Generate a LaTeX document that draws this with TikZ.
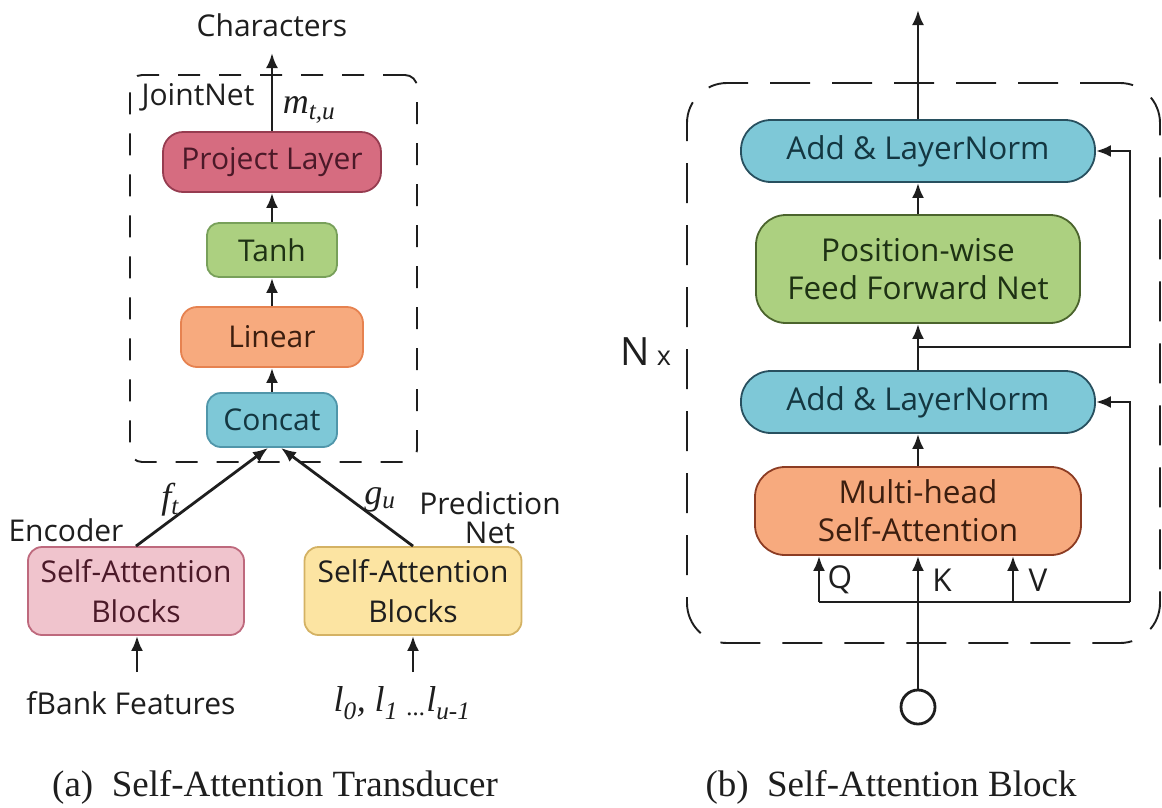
\documentclass[tikz,border=0pt]{standalone}
\usepackage{fontspec}
\setmainfont{Liberation Serif}
\setsansfont{Open Sans}
\usetikzlibrary{arrows.meta}

\definecolor{ink}{RGB}{30,30,30}
\definecolor{projfill}{RGB}{214,108,128}
\definecolor{projline}{RGB}{150,60,80}
\definecolor{projtext}{RGB}{75,25,40}
\definecolor{greenfill}{RGB}{172,208,128}
\definecolor{greenline}{RGB}{120,160,90}
\definecolor{greentext}{RGB}{30,50,20}
\definecolor{ffnline}{RGB}{75,100,45}
\definecolor{orangefill}{RGB}{247,170,126}
\definecolor{orangeline}{RGB}{230,130,80}
\definecolor{orangetext}{RGB}{60,30,15}
\definecolor{mhsaline}{RGB}{140,60,35}
\definecolor{bluefill}{RGB}{126,200,215}
\definecolor{blueline}{RGB}{80,150,170}
\definecolor{bluetext}{RGB}{20,55,65}
\definecolor{addline}{RGB}{40,80,95}
\definecolor{pinkfill}{RGB}{240,196,205}
\definecolor{pinkline}{RGB}{190,105,125}
\definecolor{yellowfill}{RGB}{252,228,162}
\definecolor{yellowline}{RGB}{212,178,100}

\newcommand{\lfont}{\sffamily\fontsize{30}{40}\selectfont}
\newcommand{\rfont}{\sffamily\fontsize{31.5}{38}\selectfont}
\newcommand{\mfont}{\rmfamily\itshape\fontsize{36}{36}\selectfont}
\newcommand{\cfont}{\rmfamily\fontsize{37}{40}\selectfont}
\newcommand{\lbl}[2]{#1\textsubscript{#2}}

\begin{document}
\begin{tikzpicture}[x=1pt, y=-1pt, >={Latex[length=15pt,width=12pt]}, line width=2.8pt, draw=ink,
    box/.style={draw, rounded corners=14pt, line width=1.8pt, align=center, inner sep=0pt, text=ink, font=\lfont},
    pill/.style={box, rounded corners=30pt, font=\rfont},
    txt/.style={inner sep=0pt, text=ink, font=\lfont, align=center},
    mtxt/.style={inner sep=0pt, text=ink, font=\mfont},
    captxt/.style={inner sep=0pt, text=ink, font=\cfont}]
  \useasboundingbox (0,0) rectangle (1162,807);

  % (a) transducer
  \node[draw, dashed, dash pattern=on 22pt off 19pt, line width=1.9pt, rounded corners=12pt,
        minimum width=287pt, minimum height=387pt] (joint) at (273.5,268.5) {};
  \node[box, fill=projfill, draw=projline, text=projtext, rounded corners=20pt, minimum width=218pt, minimum height=60pt] (proj) at (272,162) {Project Layer};
  \node[box, fill=greenfill, draw=greenline, text=greentext, rounded corners=12pt, minimum width=130pt, minimum height=54pt] (tanh) at (272,250) {Tanh};
  \node[box, fill=orangefill, draw=orangeline, text=orangetext, rounded corners=16pt, minimum width=182pt, minimum height=60pt] (linear) at (272,337) {Linear};
  \node[box, fill=bluefill, draw=blueline, text=bluetext, minimum width=130pt, minimum height=54pt] (concat) at (272,420) {Concat};
  \node[box, fill=pinkfill, draw=pinkline, text=projtext, minimum width=216pt, minimum height=88pt] (enc) at (136,591) {Self-Attention\\Blocks};
  \node[box, fill=yellowfill, draw=yellowline, minimum width=217pt, minimum height=88pt] (pred) at (413,591) {Self-Attention\\Blocks};

  \node[txt] (chars) at (272,25) {Characters};
  \node[txt] (jointlbl) at (198,97) {JointNet};
  \node[mtxt] (mtu) at (309,110) {\lbl{m}{t,u}};
  \node[mtxt] (ft) at (170,500) {\lbl{f}{t}};
  \node[mtxt] (gu) at (380,500) {\lbl{g}{u}};
  \node[txt] (enclbl) at (66,530) {Encoder};
  \node[txt, font=\sffamily\fontsize{30}{29}\selectfont] (predlbl) at (490,518) {Prediction\\Net};
  \node[txt] (fbank) at (131,703) {fBank Features};
  \node[mtxt] (labels) at (402,703) {\lbl{l}{0}, \lbl{l}{1} \textsubscript{...}\lbl{l}{u-1}};

  \coordinate (charstip) at (272,53);
  \coordinate (fbin) at (137,672);
  \coordinate (lin) at (413,672);

  \draw[->] (proj) -- (charstip);
  \draw[->] (tanh) -- (proj);
  \draw[->] (linear) -- (tanh);
  \draw[->] (concat) -- (linear);
  \draw[->] (enc.north) -- ([xshift=-4pt]concat.south);
  \draw[->] (pred.north) -- ([xshift=9pt]concat.south);
  \draw[->] (fbin) -- (fbin |- enc.south);
  \draw[->] (lin) -- (lin |- pred.south);

  % (b) block
  \node[draw, dashed, dash pattern=on 40pt off 22pt, line width=1.9pt, rounded corners=40pt,
        minimum width=473pt, minimum height=560pt] (nblock) at (923.5,363) {};
  \node[pill, fill=bluefill, draw=addline, text=bluetext, minimum width=354pt, minimum height=62pt] (add1) at (918,151) {Add \& LayerNorm};
  \node[pill, fill=greenfill, draw=ffnline, text=greentext, minimum width=324pt, minimum height=108pt] (ffn) at (918,269) {Position-wise\\Feed Forward Net};
  \node[pill, fill=bluefill, draw=addline, text=bluetext, minimum width=354pt, minimum height=62pt] (add2) at (918,402) {Add \& LayerNorm};
  \node[pill, fill=orangefill, draw=mhsaline, text=orangetext, minimum width=326pt, minimum height=88pt] (mhsa) at (918,511) {Multi-head\\Self-Attention};
  \node[circle, draw, minimum size=34pt, inner sep=0pt] (inp) at (918,707) {};

  \node[txt, font=\sffamily\fontsize{39}{39}\selectfont] (nx) at (646,352) {N\,{\fontsize{27}{27}\selectfont x}};
  \node[txt, font=\rfont] (qlbl) at (840,580) {Q};
  \node[txt, font=\rfont] (klbl) at (942,580) {K};
  \node[txt, font=\rfont] (vlbl) at (1038,580) {V};
  \node[captxt] (capa) at (275,787) {(a)\enspace Self-Attention Transducer};
  \node[captxt] (capb) at (891,787) {(b)\enspace Self-Attention Block};

  \coordinate (outtip) at (918,10);
  \coordinate (br) at (918,347);
  \coordinate (q) at (819,602);
  \coordinate (v) at (1013,602);
  \coordinate (rx) at (1130,602);

  \draw[->] (add1) -- (outtip);
  \draw[->] (ffn) -- (add1);
  \draw[->] (add2) -- (ffn);
  \draw[->] (mhsa) -- (add2);
  \draw[->] (inp) -- (mhsa);
  \draw[->] (br) -- (br -| rx) |- (add1);
  \draw (q) -- (rx);
  \draw[->] (q) -- (q |- mhsa.south);
  \draw[->] (v) -- (v |- mhsa.south);
  \draw[->] (rx) |- (add2);
\end{tikzpicture}
\end{document}
